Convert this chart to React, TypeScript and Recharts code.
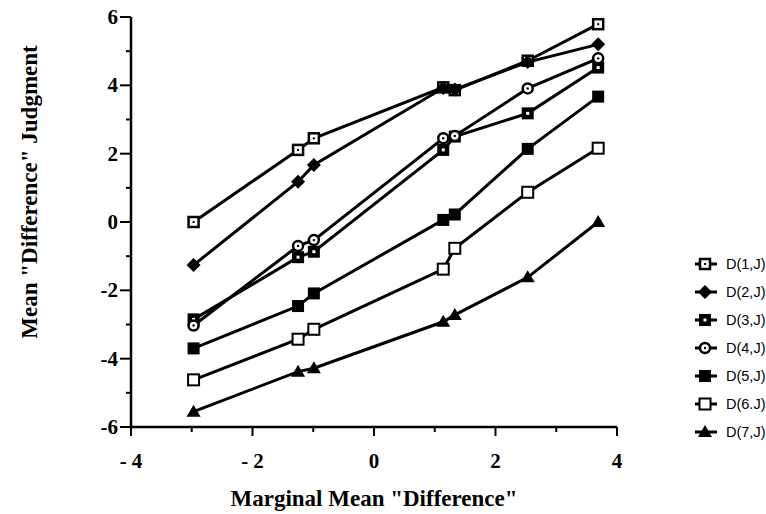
import { LineChart, Line, XAxis, YAxis, Legend } from 'recharts';

// marginal mean "difference" for each column (shared by all series)
const xs = [-2.97, -1.25, -0.99, 1.14, 1.33, 2.53, 3.69];

const d1 = [0.0, 2.11, 2.45, 3.94, 3.86, 4.72, 5.79];
const d2 = [-1.26, 1.18, 1.67, 3.92, 3.88, 4.68, 5.2];
const d3 = [-2.85, -1.03, -0.87, 2.11, 2.5, 3.18, 4.52];
const d4 = [-3.03, -0.7, -0.53, 2.45, 2.52, 3.91, 4.79];
const d5 = [-3.7, -2.46, -2.09, 0.06, 0.22, 2.14, 3.67];
const d6 = [-4.62, -3.43, -3.14, -1.38, -0.77, 0.87, 2.16];
const d7 = [-5.55, -4.38, -4.28, -2.92, -2.72, -1.62, 0.0];

const seriesNames = ['D(1,J)', 'D(2,J)', 'D(3,J)', 'D(4,J)', 'D(5,J)', 'D(6.J)', 'D(7,J)'];
const xTicks = [-4, -3, -2, -1, 0, 1, 2, 3, 4];
const yTicks = [-6, -5, -4, -3, -2, -1, 0, 1, 2, 3, 4, 5, 6];

const data = xs.map((x, i) => ({
    x,
    d1: d1[i], d2: d2[i], d3: d3[i], d4: d4[i], d5: d5[i], d6: d6[i], d7: d7[i],
}));

const serif = '"Liberation Serif", "Times New Roman", serif';
const sans = '"Liberation Sans", Arial, sans-serif';
const titleStyle = { fontFamily: serif, fontWeight: 700, fontSize: 23, fill: '#000' };
const tickStyle = { fontFamily: serif, fontWeight: 700, fontSize: '21px' };

type Kind = 'dotSquare' | 'diamond' | 'heavySquare' | 'dotDiamond' | 'square' | 'openSquare' | 'triangle';
const kinds: Kind[] = ['dotSquare', 'diamond', 'heavySquare', 'dotDiamond', 'square', 'openSquare', 'triangle'];

const Marker = ({ cx, cy, kind }: { cx: number; cy: number; kind: Kind }) => {
    switch (kind) {
        case 'dotSquare':
            return (
                <g>
                    <rect x={cx - 5} y={cy - 5} width={10} height={10} fill="#fff" stroke="#000" strokeWidth={2.5} />
                    <rect x={cx - 1} y={cy - 1} width={2} height={2} fill="#000" />
                </g>
            );
        case 'diamond':
            return <path d={`M${cx},${cy - 7}L${cx + 7},${cy}L${cx},${cy + 7}L${cx - 7},${cy}Z`} fill="#000" />;
        case 'heavySquare':
            return (
                <g>
                    <rect x={cx - 6} y={cy - 6} width={12} height={12} fill="#000" />
                    <rect x={cx - 1.5} y={cy - 1.5} width={3} height={3} fill="#fff" />
                </g>
            );
        case 'dotDiamond':
            return (
                <g>
                    <circle cx={cx} cy={cy} r={5} fill="#fff" stroke="#000" strokeWidth={2.5} />
                    <circle cx={cx} cy={cy} r={1.2} fill="#000" />
                </g>
            );
        case 'square':
            return <rect x={cx - 6} y={cy - 6} width={12} height={12} fill="#000" />;
        case 'openSquare':
            return <rect x={cx - 5.5} y={cy - 5.5} width={11} height={11} fill="#fff" stroke="#000" strokeWidth={2} />;
        case 'triangle':
            return <path d={`M${cx},${cy - 7}L${cx + 7},${cy + 5}L${cx - 7},${cy + 5}Z`} fill="#000" />;
    }
};

const makeDot = (kind: Kind) => (props: any) => {
    const { cx, cy, index } = props;
    if (cx == null || cy == null) return <g key={index} />;
    return <Marker key={index} cx={cx} cy={cy} kind={kind} />;
};

const renderXTick = (props: any) => {
    const { x, y, payload, index } = props;
    const v = payload.value as number;
    const major = v % 2 === 0;
    return (
        <g key={`xt-${index}`}>
            <line x1={x} y1={y} x2={x} y2={y + (major ? 9 : 5)} stroke="#000" strokeWidth={2} />
            {major && (
                <text x={x} y={y + 41} textAnchor="middle" fill="#000" style={tickStyle}>
                    {v < 0 ? `- ${Math.abs(v)}` : String(v)}
                </text>
            )}
        </g>
    );
};

const renderYTick = (props: any) => {
    const { x, y, payload, index } = props;
    const v = payload.value as number;
    const major = v % 2 === 0;
    return (
        <g key={`yt-${index}`}>
            <line x1={x} y1={y} x2={x - (major ? 11 : 5)} y2={y} stroke="#000" strokeWidth={2} />
            {major && (
                <text x={x - 13} y={y + 7} textAnchor="end" fill="#000" style={tickStyle}>
                    {String(v)}
                </text>
            )}
        </g>
    );
};

const YLabel = (props: any) => {
    const { viewBox } = props;
    const cx = 29;
    const cy = viewBox.y + viewBox.height / 2 - 30;
    return (
        <text x={cx} y={cy} transform={`rotate(-90 ${cx} ${cy})`} textAnchor="middle" dominantBaseline="central"
            style={titleStyle}>
            Mean "Difference" Judgment
        </text>
    );
};

const LegendBox = () => (
    <div style={{ width: 71 }}>
        {seriesNames.map((name, i) => (
            <div key={name} style={{ display: 'flex', alignItems: 'center', height: 28 }}>
                <svg width={26} height={20} style={{ flex: 'none' }}>
                    <line x1={0} y1={10} x2={22} y2={10} stroke="#000" strokeWidth={3} />
                    <Marker cx={10} cy={10} kind={kinds[i]} />
                </svg>
                <span style={{ fontFamily: sans, fontSize: 14.5, color: '#000', marginLeft: 5, whiteSpace: 'nowrap' }}>{name}</span>
            </div>
        ))}
    </div>
);

const keys = ['d1', 'd2', 'd3', 'd4', 'd5', 'd6', 'd7'];

export default function App() {
    return (
        <div style={{ position: 'absolute', left: 0, top: 0, width: 766, height: 514, background: '#fff', overflow: 'hidden' }}>
            <LineChart width={766} height={514} data={data} margin={{ top: 17, right: 78, left: 0, bottom: 0 }}>
                <XAxis dataKey="x" type="number" domain={[-4, 4]} ticks={xTicks} interval={0}
                    tickSize={0} tickMargin={0} tick={renderXTick} height={87}
                    axisLine={{ stroke: '#000', strokeWidth: 2.5 }}
                    label={{ value: 'Marginal Mean "Difference"', position: 'insideBottom', offset: 8, style: titleStyle }} />
                <XAxis xAxisId="top" orientation="top" type="number" domain={[-4, 4]} height={0}
                    tick={false} tickLine={false} axisLine={{ stroke: '#000', strokeWidth: 2.5 }} />
                <YAxis type="number" domain={[-6, 6]} ticks={yTicks} interval={0} width={131}
                    tickSize={0} tickMargin={0} tick={renderYTick}
                    axisLine={{ stroke: '#000', strokeWidth: 2.5 }} label={<YLabel />} />
                <YAxis yAxisId="right" orientation="right" type="number" domain={[-6, 6]} width={0}
                    tick={false} tickLine={false} axisLine={{ stroke: '#000', strokeWidth: 2.5 }} />
                <Legend layout="vertical" align="right" verticalAlign="middle" content={<LegendBox />}
                    wrapperStyle={{ left: 695, top: 250, width: 71 }} />
                {keys.map((k, i) => (
                    <Line key={k} dataKey={k} name={seriesNames[i]} stroke="#000" strokeWidth={3}
                        type="linear" dot={makeDot(kinds[i])} activeDot={false} isAnimationActive={false} />
                ))}
            </LineChart>
        </div>
    );
}
